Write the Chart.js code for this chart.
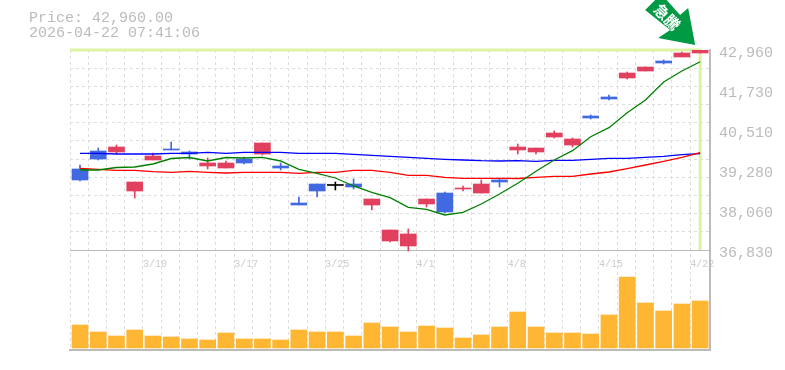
<!DOCTYPE html>
<html><head><meta charset="utf-8">
<style>html,body{margin:0;padding:0;background:#fff}#w{width:785px;height:370px}</style>
<script src="https://cdn.jsdelivr.net/npm/chart.js@4"></script></head>
<body><div id="w"><canvas id="c" width="785" height="370"></canvas></div>
<script>
const dateLabels = {4:'3/10',9:'3/17',14:'3/25',19:'4/1',24:'4/8',29:'4/15',34:'4/22'};
const headerLines = ['Price: 42,960.00','2026-04-22 07:41:06'];
const badgeText = '急騰';
const priceTicks = [42960,41730,40510,39280,38060,36830];
const lastPrice = 42960;
const open  = [39313,39864,39834,38638,39589,39926,39834,39405,39343,39619,39772,39405,38271,38853,38807,38853,38209,37106,36953,38240,38577,38700,38577,38976,39895,39834,40293,40048,40937,41520,42102,42316,42623,42745,42868];
const high  = [39435,39956,40048,38914,39803,40140,39864,39650,39558,39680,40110,39497,38454,38853,38914,39006,38393,37443,37474,38393,38608,38792,38976,39037,40079,39956,40477,40263,40968,41581,42286,42439,42654,42899,42960];
const low   = [38945,39589,39772,38424,39589,39895,39619,39313,39343,39466,39742,39282,38209,38454,38669,38700,38056,37075,36799,38148,37964,38638,38577,38761,39772,39772,40263,39987,40845,41428,42071,42316,42531,42745,42868];
const close = [38976,39619,39987,38914,39711,39895,39772,39497,39497,39497,40110,39343,38209,38638,38807,38761,38393,37443,37321,38393,37995,38730,38853,38914,39987,39956,40416,40232,40876,41458,42255,42439,42562,42868,42960];
const maLong = [39794,39794,39772,39772,39772,39794,39794,39825,39794,39825,39825,39825,39794,39794,39794,39763,39733,39702,39671,39641,39610,39589,39567,39558,39567,39549,39579,39579,39610,39641,39641,39671,39702,39751,39782];
const maMid = [39334,39303,39273,39273,39230,39212,39242,39212,39190,39212,39212,39212,39181,39212,39212,39273,39273,39212,39120,39120,39058,39028,39028,39028,39022,39058,39089,39089,39160,39221,39322,39435,39549,39671,39812];
const maShort = [39282,39282,39359,39374,39466,39634,39665,39558,39665,39650,39671,39558,39303,39181,39037,38792,38599,38433,38139,38078,37903,37986,38240,38546,38874,39242,39589,39874,40303,40579,41038,41428,41979,42316,42601];
const volume = [23000,16000,12000,18000,12000,11000,9000,8000,15000,9000,9000,8000,18000,16000,16000,12000,25000,21000,16000,22000,20000,10000,13000,21000,36000,21000,15000,15000,14000,33000,71000,45000,37000,44000,47000];

const n = open.length;
const RED='#e2405f', BLUE='#4169e1', BLACK='#000000', MONO='"Liberation Mono", monospace';
const colorOf = i => close[i]>open[i]?RED:close[i]<open[i]?BLUE:BLACK;
const idx = open.map((_,i)=>i);
const colors = idx.map(colorOf);
const xMin=-0.548, xMax=34.54, pMax=42960, pMin=33765;
const gridPrices=[]; for(let k=0;k<=11;k++) gridPrices.push(pMax-(6130/11)*k);

const overlay = {
  id:'overlay',
  afterDraw(chart){
    const g=chart.ctx;
    g.save();
    g.font='15px '+MONO; g.fillStyle='#bbbbbb'; g.textBaseline='middle'; g.textAlign='left';
    g.fillText(headerLines[0],29,18);
    g.fillText(headerLines[1],29,33);
    const tx=chart.scales.x.getPixelForValue(n-1)-5, ty=chart.scales.y.getPixelForValue(lastPrice)-5;
    g.translate(tx,ty);
    g.fillStyle='#009944';
    g.beginPath();
    g.moveTo(0,0);
    g.lineTo(-37,-7);g.lineTo(-25,-15);g.lineTo(-50,-35);g.lineTo(-34,-51);g.lineTo(-15,-30);g.lineTo(-7,-37);
    g.closePath();g.fill();
    g.translate(-28,-28);g.rotate(Math.PI/4);
    g.fillStyle='#fff';g.font='bold 15px "Noto Sans CJK JP"';g.textAlign='center';
    g.fillText(badgeText,0,0);
    g.restore();
  }
};

new Chart(document.getElementById('c'),{
  type:'bar',
  data:{labels:idx,datasets:[
    {type:'line',label:'last',data:[{x:xMin,y:lastPrice},{x:n-1,y:lastPrice},{x:n-1,y:priceTicks[5]}],parsing:false,borderColor:'#def2a3',borderWidth:3,pointRadius:0,xAxisID:'x',yAxisID:'y',clip:false,order:9},
    {label:'volume',data:idx.map(i=>({x:i,y:volume[i]})),backgroundColor:'#ffb733',barThickness:16,grouped:false,yAxisID:'v',xAxisID:'x',order:8},
    {label:'wick',data:idx.map(i=>({x:i,y:[low[i],high[i]]})),backgroundColor:colors,barThickness:1,grouped:false,yAxisID:'y',xAxisID:'x',order:7},
    {label:'body',data:idx.map(i=>({x:i,y:[open[i],close[i]]})),backgroundColor:colors,barThickness:16,minBarLength:1,grouped:false,yAxisID:'y',xAxisID:'x',order:6},
    {type:'line',label:'long',data:idx.map(i=>({x:i,y:maLong[i]})),borderColor:'#0000ff',borderWidth:1.3,pointRadius:0,tension:0,yAxisID:'y',order:3},
    {type:'line',label:'mid',data:idx.map(i=>({x:i,y:maMid[i]})),borderColor:'#ff0000',borderWidth:1.3,pointRadius:0,tension:0,yAxisID:'y',order:2},
    {type:'line',label:'short',data:idx.map(i=>({x:i,y:maShort[i]})),borderColor:'#008000',borderWidth:1.3,pointRadius:0,tension:0,yAxisID:'y',order:1}
  ]},
  options:{
    responsive:false,animation:false,
    layout:{padding:{left:0,right:0,top:50,bottom:19}},
    plugins:{legend:{display:false},tooltip:{enabled:false}},
    scales:{
      x:{type:'linear',offset:false,min:xMin,max:xMax,position:{y:priceTicks[5]},
        afterBuildTicks(s){s.ticks=[];for(let i=0;i<n;i++)s.ticks.push({value:i+xMin});},
        grid:{offset:false,color:'#dddddd',lineWidth:1,drawTicks:false},
        border:{display:true,color:'#bbbbbb',width:1,dash:[3,3]},
        ticks:{autoSkip:false,maxRotation:0,align:'start',padding:8,color:'#cccccc',font:{family:MONO,size:10},
          callback(v){return dateLabels[Math.round(v-xMin)]||'';}}
      },
      xb:{type:'linear',axis:'x',offset:false,position:'bottom',min:xMin,max:xMax,
        grid:{display:false},ticks:{display:false},border:{display:true,color:'#bbbbbb',width:2},
        afterFit(s){s.height=1;}
      },
      y:{type:'linear',position:'right',min:pMin,max:pMax,
        afterBuildTicks(s){s.ticks=priceTicks.map(v=>({value:v}));},
        grid:{display:false,drawTicks:false},
        border:{display:true,color:'#bbbbbb',width:2},
        ticks:{autoSkip:false,padding:9,labelOffset:3,color:'#bbbbbb',font:{family:MONO,size:15},
          callback(v){return v.toLocaleString('en-US');}},
        afterFit(s){s.width=75;}
      },
      yg:{type:'linear',position:'left',min:pMin,max:pMax,
        afterBuildTicks(s){s.ticks=gridPrices.map(v=>({value:v}));},
        grid:{color:'#dddddd',lineWidth:1,drawTicks:false},
        border:{display:false,dash:[3,3]},
        ticks:{display:false},
        afterFit(s){s.width=70;}
      },
      v:{type:'linear',display:false,min:-2000,max:298000}
    }
  },
  plugins:[overlay]
});
</script></body></html>
